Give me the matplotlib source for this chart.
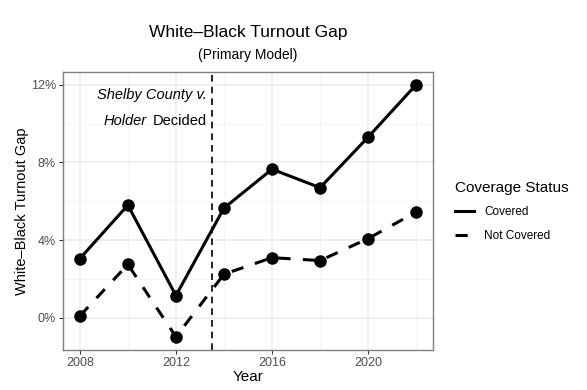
import matplotlib
matplotlib.use("Agg")
import matplotlib.pyplot as plt
from matplotlib.lines import Line2D
from matplotlib.ticker import FixedLocator, FuncFormatter

plt.rcParams['font.family'] = ['Liberation Sans', 'DejaVu Sans']

years = [2008, 2010, 2012, 2014, 2016, 2018, 2020, 2022]
covered = [3.05, 5.8, 1.15, 5.65, 7.65, 6.7, 9.3, 12.0]
not_covered = [0.1, 2.75, -0.97, 2.25, 3.1, 2.95, 4.08, 5.45]
decision_year = 2013.5

W, H = 587, 390
fig = plt.figure(figsize=(W/100, H/100), dpi=100)
ax = fig.add_axes([63/W, 1-350/H, (433-63)/W, (350-72)/H])

ax.set_xlim(2007.3, 2022.7)
ax.set_ylim(-1.65, 12.65)

ax.xaxis.set_major_locator(FixedLocator([2008, 2012, 2016, 2020]))
ax.xaxis.set_minor_locator(FixedLocator([2010, 2014, 2018, 2022]))
ax.yaxis.set_major_locator(FixedLocator([0, 4, 8, 12]))
ax.yaxis.set_minor_locator(FixedLocator([2, 6, 10]))
ax.yaxis.set_major_formatter(FuncFormatter(lambda v, p: f"{v:.0f}%"))

ax.grid(which='major', color='#ebebeb', linewidth=1.1)
ax.grid(which='minor', color='#f3f3f3', linewidth=0.6)
ax.set_axisbelow(True)
for s in ax.spines.values():
    s.set_color('#7f7f7f')
    s.set_linewidth(1.0)
ax.tick_params(which='major', length=3, color='#333333', labelsize=9, labelcolor='#4d4d4d', pad=2)
ax.tick_params(which='minor', length=0)

ax.plot(years, covered, color='black', linewidth=2.2, linestyle='-', marker='o', markersize=8, solid_capstyle='butt')
ax.plot(years, not_covered, color='black', linewidth=2.2, linestyle=(0, (4, 4)), marker='o', markersize=8, dash_capstyle='butt')
ax.axvline(decision_year, color='black', linewidth=1.2, linestyle=(0, (4, 3)))

ax.text(2013.3, 11.45, "Shelby County v.", style='italic', ha='right', va='center', fontsize=10.5)
ax.text(2013.3, 10.15, "Decided", ha='right', va='center', fontsize=10.5)
ax.text(2010.8, 10.15, "Holder", style='italic', ha='right', va='center', fontsize=10.5)

ax.set_xlabel("Year", fontsize=11, labelpad=1)
ax.set_ylabel("White\u2013Black Turnout Gap", fontsize=10.5, labelpad=1)

fig.text(248/W, 1-32/H, "White\u2013Black Turnout Gap", ha='center', va='center', fontsize=12.5)
fig.text(248/W, 1-55/H, "(Primary Model)", ha='center', va='center', fontsize=10)

handles = [Line2D([], [], color='black', linewidth=2.2, linestyle='-'),
           Line2D([], [], color='black', linewidth=2.2, linestyle=(0, (4, 4)))]
leg = fig.legend(handles, ["Covered", "Not Covered"], title="Coverage Status",
                 loc='upper left', bbox_to_anchor=(444/W, 1-170/H), frameon=False,
                 fontsize=8.5, title_fontsize=11, handlelength=1.6, labelspacing=1.0,
                 handletextpad=0.9, alignment='left')

fig.savefig("out.png", dpi=100)
